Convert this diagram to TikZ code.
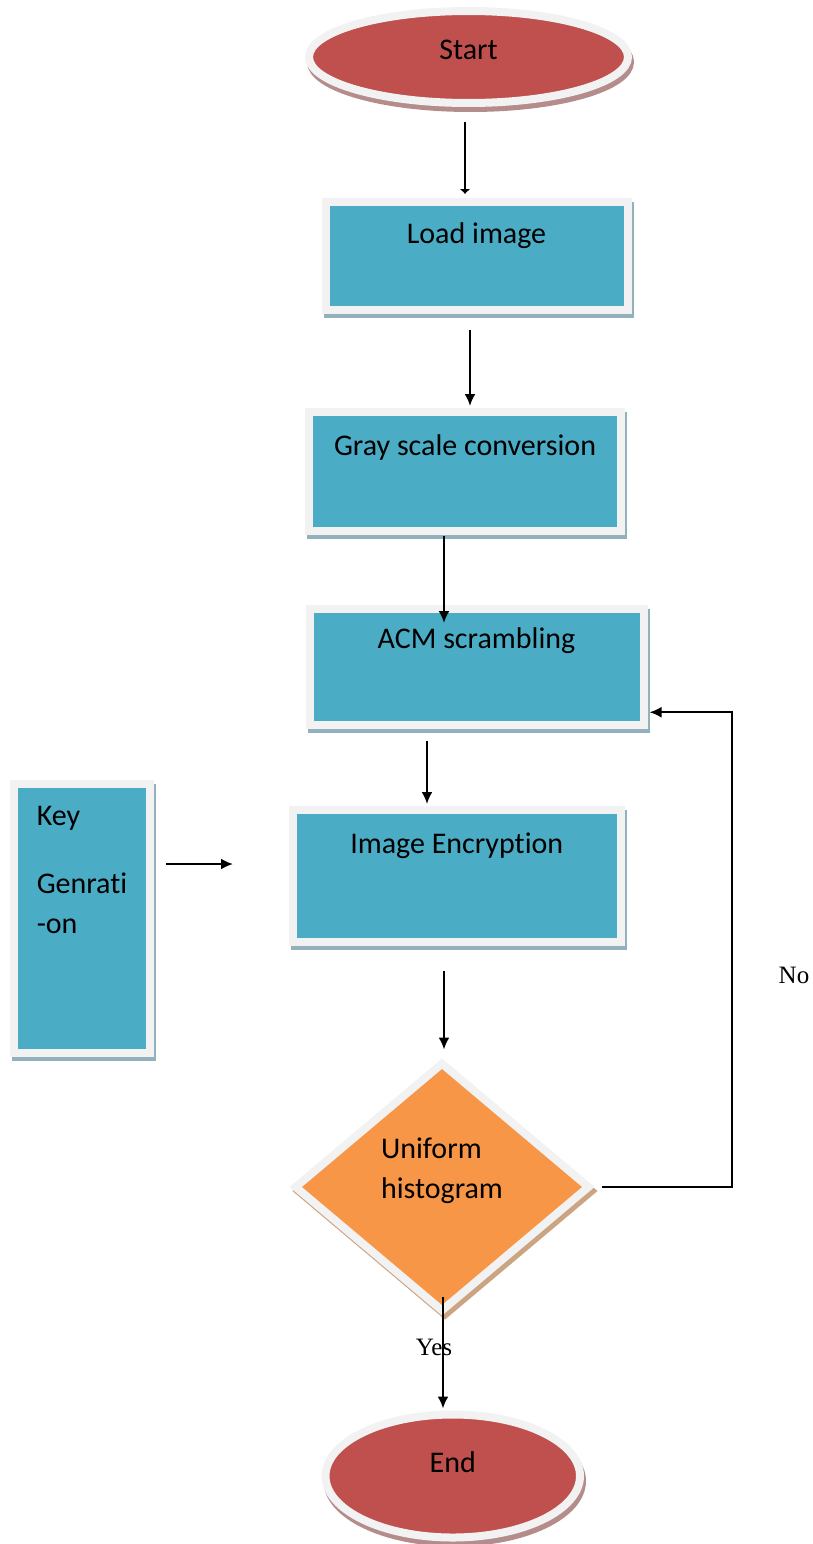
\documentclass[tikz,border=0pt]{standalone}
\usepackage{fontspec}
\setmainfont{Carlito}[Ligatures=NoCommon]
\newfontfamily\notefont{Liberation Serif}
\usetikzlibrary{shapes.geometric,shadows,arrows.meta}
\definecolor{boxteal}{HTML}{4BACC6}
\definecolor{termred}{HTML}{C0504D}
\definecolor{decorange}{HTML}{F79646}
\definecolor{rimgrey}{HTML}{F2F2F2}
\definecolor{tealshadow}{HTML}{93B1BD}
\definecolor{redshadow}{HTML}{B58C8C}
\definecolor{orangeshadow}{HTML}{CBA482}
\newcommand{\flowfont}{\fontsize{30}{40}\selectfont}
\tikzset{
  rim/.style={draw=rimgrey, line width=8pt, inner sep=0pt},
  flowtext/.style={font=\flowfont},
  procbox/.style={rectangle, rim, fill=boxteal, flowtext,
    general shadow={fill=tealshadow, draw=tealshadow, line width=8pt, shadow xshift=2pt, shadow yshift=-4pt}},
  terminal/.style={ellipse, rim, fill=termred, flowtext,
    general shadow={fill=redshadow, draw=redshadow, line width=8pt, shadow xshift=2pt, shadow yshift=-5pt}},
  decision/.style={diamond, rim, fill=decorange,
    general shadow={fill=orangeshadow, draw=orangeshadow, line width=8pt, shadow xshift=3pt, shadow yshift=-4pt}},
  flow/.style={-{Latex[length=12pt,width=11pt]}, line width=2.2pt},
  note/.style={font=\notefont\fontsize{25}{30}\selectfont, inner sep=0pt}
}
\begin{document}
\begin{tikzpicture}[x=1pt,y=-1pt]
  \useasboundingbox (0,0) rectangle (812,1544);

  \path (468.5,57) node[terminal, minimum width=319pt, minimum height=92pt, text height=20pt, text depth=14pt] (start) {Start};
  \path (476.5,256) node[procbox, minimum width=302pt, text height=41pt, text depth=67pt] (load) {Load image};
  \path (465,471) node[procbox, minimum width=311.5pt, text height=43.5pt, text depth=75.5pt] (gray) {Gray scale conversion};
  \path (476.5,666.75) node[procbox, minimum width=334pt, text height=39pt, text depth=76.5pt] (acm) {ACM scrambling};
  \path (456.75,875.75) node[procbox, minimum width=327.5pt, text height=43pt, text depth=88.5pt] (enc) {Image Encryption};
  \path (82,918.5) node[procbox, minimum width=136pt, minimum height=269pt,
    label={[flowtext, align=left, yshift=49pt]center:Key\\[28pt]Genrati\\-on}] (key) {};
  \path (442,1187) node[decision, minimum width=296pt, minimum height=250pt,
    label={[flowtext, align=left, yshift=16pt]center:Uniform\\histogram}] (dec) {};
  \path (452.75,1476) node[terminal, minimum width=254.5pt, minimum height=123pt, text height=20pt, text depth=28pt] (end) {End};
  \coordinate (keyout) at (233,864);

  \draw[-{Latex[length=5pt,width=11pt]}, line width=2.2pt] ([xshift=-3.5pt,yshift=-15pt]start.south) -- ([xshift=-3.5pt,yshift=4pt]start.south |- load.north);
  \draw[flow] ([xshift=-6.5pt,yshift=-16pt]load.south) -- ([xshift=-6.5pt,yshift=1.5pt]load.south |- gray.north);
  \draw[flow] ([xshift=-21pt,yshift=-1.5pt]gray.south) -- ([xshift=-21pt,yshift=-18pt]gray.south |- acm.north);
  \draw[flow] ([xshift=-49.5pt,yshift=-12.5pt]acm.south) -- ([xshift=-49.5pt,yshift=2pt]acm.south |- enc.north);
  \draw[flow] ([xshift=12pt]key.east |- keyout) -- (keyout);
  \draw[flow] ([xshift=-12.75pt,yshift=-25.5pt]enc.south) -- ([xshift=2pt,yshift=8.5pt]dec.north);
  \draw[flow] ([xshift=1pt,yshift=19pt]dec.south) -- node[note, pos=0.45, xshift=-9pt] (yes) {Yes} ([xshift=1pt,yshift=2pt]dec.south |- end.north);
  \draw[flow] ([xshift=8pt]dec.east) -- ++(130,0) |- ([xshift=2pt,yshift=-45.5pt]acm.east);
  \path (794,975) node[note] (no) {No};
\end{tikzpicture}
\end{document}
